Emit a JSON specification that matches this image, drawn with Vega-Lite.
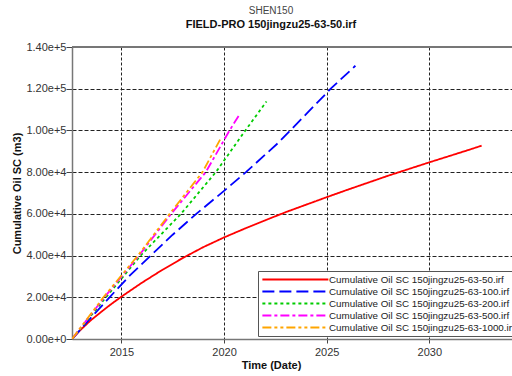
{
  "$schema": "https://vega.github.io/schema/vega-lite/v6.json",
  "width": 440,
  "height": 292,
  "autosize": {"type": "none"},
  "padding": {"left": 72, "top": 47, "right": 0, "bottom": 37},
  "background": "white",
  "title": {
    "text": "SHEN150",
    "subtitle": "FIELD-PRO 150jingzu25-63-50.irf",
    "anchor": "middle",
    "dx": -21,
    "offset": 11,
    "font": "Liberation Sans",
    "fontSize": 10,
    "fontWeight": "normal",
    "color": "#444",
    "subtitleFont": "Liberation Sans",
    "subtitleFontSize": 11,
    "subtitleFontWeight": "bold",
    "subtitleColor": "#111",
    "subtitlePadding": 3
  },
  "config": {
    "view": {"stroke": null},
    "axis": {
      "labelFont": "Liberation Sans",
      "labelFontSize": 11,
      "labelColor": "#333",
      "titleFont": "Liberation Sans",
      "titleFontSize": 11,
      "titleFontWeight": "bold",
      "titleColor": "#111",
      "domainColor": "#777",
      "domainWidth": 1.5,
      "tickColor": "#444",
      "grid": true,
      "gridColor": "#222",
      "gridWidth": 1
    },
    "legend": {
      "orient": "none",
      "legendX": 186,
      "legendY": 224,
      "padding": 3,
      "symbolType": "M-1,0H15",
      "symbolSize": 68,
      "symbolStrokeWidth": 2,
      "labelOffset": 57,
      "labelFont": "Liberation Sans",
      "labelFontSize": 9.8,
      "labelColor": "#222",
      "labelLimit": 400,
      "rowPadding": 1.0,
      "strokeColor": "#555",
      "fillColor": "white"
    }
  },
  "data": {
    "values": [
      {"series": "Cumulative Oil SC 150jingzu25-63-50.irf", "date": "2012-08-04", "value": 0},
      {"series": "Cumulative Oil SC 150jingzu25-63-50.irf", "date": "2013-01-01", "value": 4300},
      {"series": "Cumulative Oil SC 150jingzu25-63-50.irf", "date": "2013-07-01", "value": 8900},
      {"series": "Cumulative Oil SC 150jingzu25-63-50.irf", "date": "2014-01-01", "value": 12900},
      {"series": "Cumulative Oil SC 150jingzu25-63-50.irf", "date": "2014-07-01", "value": 16700},
      {"series": "Cumulative Oil SC 150jingzu25-63-50.irf", "date": "2015-01-01", "value": 20300},
      {"series": "Cumulative Oil SC 150jingzu25-63-50.irf", "date": "2016-01-01", "value": 27000},
      {"series": "Cumulative Oil SC 150jingzu25-63-50.irf", "date": "2017-01-01", "value": 33200},
      {"series": "Cumulative Oil SC 150jingzu25-63-50.irf", "date": "2018-01-01", "value": 38900},
      {"series": "Cumulative Oil SC 150jingzu25-63-50.irf", "date": "2019-01-01", "value": 44100},
      {"series": "Cumulative Oil SC 150jingzu25-63-50.irf", "date": "2020-01-01", "value": 48700},
      {"series": "Cumulative Oil SC 150jingzu25-63-50.irf", "date": "2021-01-01", "value": 52900},
      {"series": "Cumulative Oil SC 150jingzu25-63-50.irf", "date": "2022-01-01", "value": 56900},
      {"series": "Cumulative Oil SC 150jingzu25-63-50.irf", "date": "2023-01-01", "value": 60800},
      {"series": "Cumulative Oil SC 150jingzu25-63-50.irf", "date": "2024-01-01", "value": 64400},
      {"series": "Cumulative Oil SC 150jingzu25-63-50.irf", "date": "2025-01-01", "value": 68000},
      {"series": "Cumulative Oil SC 150jingzu25-63-50.irf", "date": "2026-01-01", "value": 71500},
      {"series": "Cumulative Oil SC 150jingzu25-63-50.irf", "date": "2027-01-01", "value": 74900},
      {"series": "Cumulative Oil SC 150jingzu25-63-50.irf", "date": "2028-01-01", "value": 78300},
      {"series": "Cumulative Oil SC 150jingzu25-63-50.irf", "date": "2029-01-01", "value": 81500},
      {"series": "Cumulative Oil SC 150jingzu25-63-50.irf", "date": "2030-01-01", "value": 84700},
      {"series": "Cumulative Oil SC 150jingzu25-63-50.irf", "date": "2031-01-01", "value": 87800},
      {"series": "Cumulative Oil SC 150jingzu25-63-50.irf", "date": "2032-01-01", "value": 90900},
      {"series": "Cumulative Oil SC 150jingzu25-63-50.irf", "date": "2032-07-20", "value": 92700},

      {"series": "Cumulative Oil SC 150jingzu25-63-100.irf", "date": "2012-08-04", "value": 0},
      {"series": "Cumulative Oil SC 150jingzu25-63-100.irf", "date": "2013-07-01", "value": 10000},
      {"series": "Cumulative Oil SC 150jingzu25-63-100.irf", "date": "2014-06-03", "value": 20000},
      {"series": "Cumulative Oil SC 150jingzu25-63-100.irf", "date": "2015-06-01", "value": 30500},
      {"series": "Cumulative Oil SC 150jingzu25-63-100.irf", "date": "2016-06-06", "value": 40000},
      {"series": "Cumulative Oil SC 150jingzu25-63-100.irf", "date": "2017-07-01", "value": 50000},
      {"series": "Cumulative Oil SC 150jingzu25-63-100.irf", "date": "2018-08-25", "value": 60000},
      {"series": "Cumulative Oil SC 150jingzu25-63-100.irf", "date": "2020-01-01", "value": 71000},
      {"series": "Cumulative Oil SC 150jingzu25-63-100.irf", "date": "2021-01-25", "value": 80000},
      {"series": "Cumulative Oil SC 150jingzu25-63-100.irf", "date": "2022-08-21", "value": 94000},
      {"series": "Cumulative Oil SC 150jingzu25-63-100.irf", "date": "2023-03-26", "value": 100000},
      {"series": "Cumulative Oil SC 150jingzu25-63-100.irf", "date": "2025-03-14", "value": 120000},
      {"series": "Cumulative Oil SC 150jingzu25-63-100.irf", "date": "2026-05-27", "value": 131000},

      {"series": "Cumulative Oil SC 150jingzu25-63-200.irf", "date": "2012-08-04", "value": 0},
      {"series": "Cumulative Oil SC 150jingzu25-63-200.irf", "date": "2014-04-01", "value": 20000},
      {"series": "Cumulative Oil SC 150jingzu25-63-200.irf", "date": "2015-12-08", "value": 40000},
      {"series": "Cumulative Oil SC 150jingzu25-63-200.irf", "date": "2017-11-25", "value": 60000},
      {"series": "Cumulative Oil SC 150jingzu25-63-200.irf", "date": "2019-08-08", "value": 80000},
      {"series": "Cumulative Oil SC 150jingzu25-63-200.irf", "date": "2021-01-15", "value": 100000},
      {"series": "Cumulative Oil SC 150jingzu25-63-200.irf", "date": "2022-01-26", "value": 113900},

      {"series": "Cumulative Oil SC 150jingzu25-63-500.irf", "date": "2012-08-04", "value": 0},
      {"series": "Cumulative Oil SC 150jingzu25-63-500.irf", "date": "2014-03-03", "value": 20000},
      {"series": "Cumulative Oil SC 150jingzu25-63-500.irf", "date": "2015-11-10", "value": 40000},
      {"series": "Cumulative Oil SC 150jingzu25-63-500.irf", "date": "2017-06-03", "value": 60000},
      {"series": "Cumulative Oil SC 150jingzu25-63-500.irf", "date": "2019-02-10", "value": 80000},
      {"series": "Cumulative Oil SC 150jingzu25-63-500.irf", "date": "2020-04-08", "value": 100000},
      {"series": "Cumulative Oil SC 150jingzu25-63-500.irf", "date": "2020-09-17", "value": 107000},

      {"series": "Cumulative Oil SC 150jingzu25-63-1000.irf", "date": "2012-08-04", "value": 0},
      {"series": "Cumulative Oil SC 150jingzu25-63-1000.irf", "date": "2014-02-14", "value": 20000},
      {"series": "Cumulative Oil SC 150jingzu25-63-1000.irf", "date": "2015-10-20", "value": 40000},
      {"series": "Cumulative Oil SC 150jingzu25-63-1000.irf", "date": "2017-05-08", "value": 60000},
      {"series": "Cumulative Oil SC 150jingzu25-63-1000.irf", "date": "2018-12-13", "value": 80000},
      {"series": "Cumulative Oil SC 150jingzu25-63-1000.irf", "date": "2019-10-23", "value": 95600}
    ]
  },
  "encoding": {
    "x": {
      "field": "date",
      "type": "temporal",
      "scale": {"type": "utc", "domain": ["2012-08-04", "2034-01-12"], "nice": false},
      "axis": {
        "title": "Time (Date)",
        "titleX": 199,
        "titlePadding": 2,
        "format": "%Y",
        "values": ["2015-01-01", "2020-01-01", "2025-01-01", "2030-01-01"],
        "tickSize": 4,
        "labelPadding": 3,
        "gridDash": [3, 2]
      }
    },
    "y": {
      "field": "value",
      "type": "quantitative",
      "scale": {"domain": [0, 140000], "nice": false},
      "axis": {
        "title": "Cumulative Oil SC (m3)",
        "format": ".2e",
        "values": [0, 20000, 40000, 60000, 80000, 100000, 120000, 140000],
        "tickSize": 6,
        "labelPadding": 0,
        "titlePadding": 3,
        "grid": true,
        "gridDash": [4, 2]
      }
    }
  },
  "layer": [
    {
      "mark": {"type": "line", "strokeWidth": 1.8, "clip": true},
      "encoding": {
        "color": {
          "field": "series",
          "type": "nominal",
          "title": null,
          "scale": {
            "domain": [
              "Cumulative Oil SC 150jingzu25-63-50.irf",
              "Cumulative Oil SC 150jingzu25-63-100.irf",
              "Cumulative Oil SC 150jingzu25-63-200.irf",
              "Cumulative Oil SC 150jingzu25-63-500.irf",
              "Cumulative Oil SC 150jingzu25-63-1000.irf"
            ],
            "range": ["#ff0000", "#0000ff", "#00cc00", "#ff00ff", "#ffa500"]
          }
        },
        "strokeDash": {
          "field": "series",
          "type": "nominal",
          "title": null,
          "scale": {
            "domain": [
              "Cumulative Oil SC 150jingzu25-63-50.irf",
              "Cumulative Oil SC 150jingzu25-63-100.irf",
              "Cumulative Oil SC 150jingzu25-63-200.irf",
              "Cumulative Oil SC 150jingzu25-63-500.irf",
              "Cumulative Oil SC 150jingzu25-63-1000.irf"
            ],
            "range": [[1, 0], [12, 5], [3, 3], [9, 3, 3, 3], [9, 3, 3, 3, 3, 3]]
          }
        }
      }
    },
    {
      "mark": {"type": "rule", "color": "#777", "strokeWidth": 1.5},
      "encoding": {
        "x": {"datum": {"year": 2012, "month": 8, "date": 4, "utc": true}, "type": "temporal"},
        "x2": {"datum": {"year": 2034, "month": 1, "date": 12, "utc": true}},
        "y": {"datum": 140000, "type": "quantitative"}
      }
    }
  ]
}
